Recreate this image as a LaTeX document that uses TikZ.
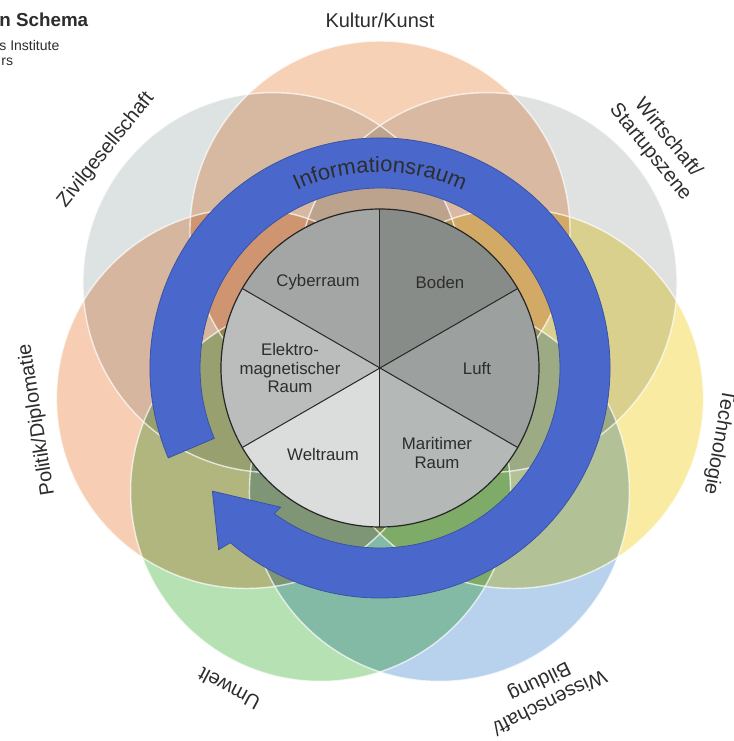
\documentclass[tikz,border=0pt]{standalone}
\usepackage{fontspec}
\setmainfont{Liberation Sans}
\usetikzlibrary{decorations.text}
\definecolor{ckultur}{RGB}{246,201,170}
\definecolor{cwirt}{RGB}{219,222,222}
\definecolor{ctech}{RGB}{249,232,145}
\definecolor{cwiss}{RGB}{172,203,236}
\definecolor{cumwelt}{RGB}{170,221,166}
\definecolor{cpolitik}{RGB}{246,198,168}
\definecolor{czivil}{RGB}{216,221,221}
\definecolor{infoblue}{RGB}{74,104,204}
\definecolor{scyber}{RGB}{163,166,164}
\definecolor{sboden}{RGB}{136,140,137}
\definecolor{sluft}{RGB}{156,160,158}
\definecolor{smarit}{RGB}{180,184,182}
\definecolor{swelt}{RGB}{219,221,220}
\definecolor{selektro}{RGB}{186,189,187}
\definecolor{txt}{RGB}{45,45,45}
\begin{document}
\begin{tikzpicture}[x=0.5pt,y=0.5pt,
  rim/.style={draw=white, line width=0.7pt, opacity=0.7},
  outlabel/.style={font=\fontsize{10}{11.4}\selectfont, text=txt, align=center, inner sep=0pt},
  pielabel/.style={font=\fontsize{8.4}{9.3}\selectfont, text=txt, align=center, inner sep=0pt},
  sectorline/.style={draw=black!85, line width=0.5pt},
  titletext/.style={text=txt, anchor=base west, inner sep=0pt},
]
\useasboundingbox (-380,-373) rectangle (354,368);
\fill[white] (-380,-373) rectangle (354,368);
\coordinate (O) at (0,0);
% big circles
\foreach \k in {0,...,6}{
  \coordinate (c\k) at ({90-51.4286*\k}:137);
}
\begin{scope}[blend mode=multiply]
\foreach \k/\c in {0/ckultur,1/cwirt,2/ctech,3/cwiss,4/cumwelt,5/cpolitik,6/czivil}{
  \fill[\c, fill opacity=0.85] (c\k) circle[radius=190];
}
\end{scope}
\foreach \k in {0,...,6}{
  \draw[rim] (c\k) circle[radius=190];
}
% blue arrow
\fill[infoblue, draw=infoblue!80!black, line width=0.4pt]
  (203:230) arc[start angle=203, end angle=-130.6, radius=230]
  -- (228.4:243) -- (216.3:208) -- (234.5:171) -- (234:180)
  arc[start angle=-126, end angle=203, radius=180] -- cycle;
\path[decorate, decoration={text along path, text color=txt,
  text={|\fontsize{11}{12}\selectfont|Informationsraum}, text align=center}]
  (150:196) arc[start angle=150, end angle=30, radius=196];
% pie
\foreach \a/\b/\c in {90/150/scyber, 30/90/sboden, -30/30/sluft, -90/-30/smarit, -150/-90/swelt, 150/210/selektro}{
  \fill[\c] (O) -- (\a:159) arc[start angle=\a, end angle=\b, radius=159] -- cycle;
}
\foreach \a in {90,30,-30,-90,-150,150}{
  \draw[sectorline] (O) -- (\a:159);
}
\draw[black!85, line width=0.6pt] (O) circle[radius=159];
\node[pielabel] (cyber) at (-62,86) {Cyberraum};
\node[pielabel] (boden) at (60,86) {Boden};
\node[pielabel] (luft) at (97,0) {Luft};
\node[pielabel] (marit) at (57,-85) {Maritimer\\Raum};
\node[pielabel] (welt) at (-57,-86) {Weltraum};
\node[pielabel] (elektro) at (-90,0) {Elektro-\\magnetischer\\Raum};
% outer labels
\node[outlabel] (kultur) at (0,348) {Kultur/Kunst};
\node[outlabel, rotate=-51] (wirt) at (38.6:357) {Wirtschaft/\\Startupszene};
\node[outlabel, rotate=-100] (tech) at (339,-74) {Technologie};
\node[outlabel, rotate=-154] (wiss) at (164,-323) {Wissenschaft/\\Bildung};
\node[outlabel, rotate=152] (umwelt) at (-151,-321) {Umwelt};
\node[outlabel, rotate=99] (politik) at (-343,-52) {Politik/Diplomatie};
\node[outlabel, rotate=51] (zivil) at (-274,218) {Zivilgesellschaft};
% cut title block
\node[titletext, font=\bfseries\fontsize{9.4}{11}\selectfont] (t1) at (-381,342) {n Schema};
\node[titletext, font=\fontsize{7}{8}\selectfont] (t2) at (-381,318) {s Institute};
\node[titletext, font=\fontsize{7}{8}\selectfont] (t3) at (-379,303) {rs};
\end{tikzpicture}
\end{document}
